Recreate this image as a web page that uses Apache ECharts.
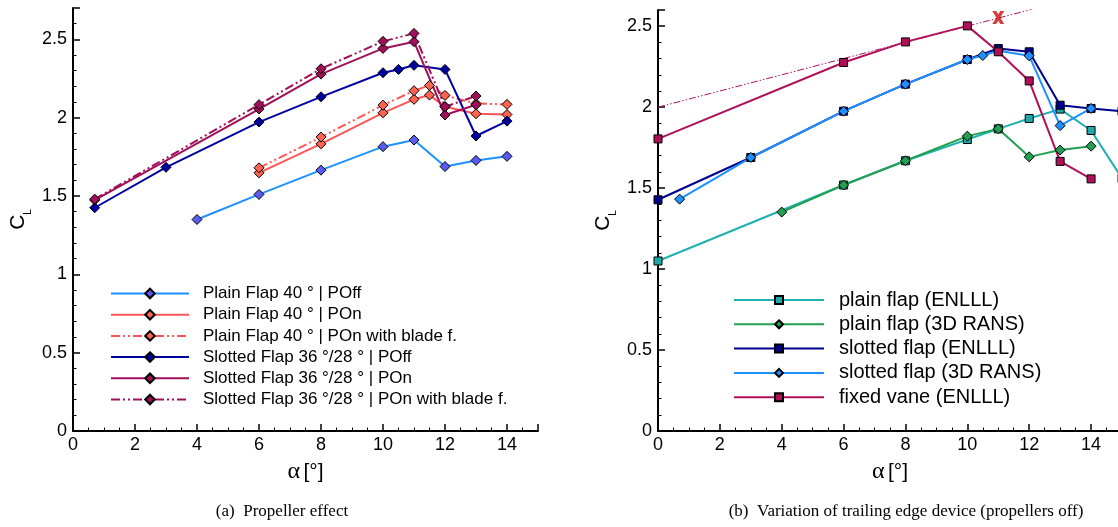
<!DOCTYPE html>
<html><head><meta charset="utf-8">
<script src="https://cdn.jsdelivr.net/npm/echarts@6/dist/echarts.min.js"></script>
<style>html,body{margin:0;padding:0;background:#fff;overflow:hidden}#c{width:1130px;height:527px}</style>
</head><body><div id="c"></div>
<script>
// ---------- (a) Propeller effect ----------
const alphaPlainOff = [4, 6, 8, 10, 11, 12, 13, 14];
const clPlainOff = [1.35, 1.51, 1.665, 1.815, 1.857, 1.688, 1.727, 1.753];
const alphaPlainOn = [6, 8, 10, 11, 11.5, 12, 13, 14];
const clPlainOn = [1.648, 1.833, 2.031, 2.117, 2.144, 2.07, 2.025, 2.02];
const clPlainOnBlade = [1.68, 1.876, 2.08, 2.172, 2.206, 2.142, 2.09, 2.085];
const alphaSlotOff = [0.7, 3, 6, 8, 10, 10.5, 11, 12, 13, 14];
const clSlotOff = [1.425, 1.683, 1.972, 2.133, 2.287, 2.308, 2.334, 2.308, 1.883, 1.978];
const alphaSlotOn = [0.7, 6, 8, 10, 11, 12, 13];
const clSlotOn = [1.474, 2.055, 2.278, 2.442, 2.485, 2.017, 2.082];
const clSlotOnBlade = [1.48, 2.083, 2.312, 2.487, 2.538, 2.07, 2.138];
const namesA = [
  'Plain Flap 40 ° | POff',
  'Plain Flap 40 ° | POn',
  'Plain Flap 40 ° | POn with blade f.',
  'Slotted Flap 36 °/28 ° | POff',
  'Slotted Flap 36 °/28 ° | POn',
  'Slotted Flap 36 °/28 ° | POn with blade f.'
];

// ---------- (b) Trailing edge device ----------
const alphaPlainEnlll = [0, 6, 8, 10, 11, 12, 13, 14, 15];
const clPlainEnlll = [1.05, 1.519, 1.669, 1.80, 1.866, 1.93, 1.988, 1.856, 1.56];
const alphaPlainRans = [4, 6, 8, 10, 11, 12, 13, 14];
const clPlainRans = [1.352, 1.519, 1.669, 1.821, 1.866, 1.693, 1.735, 1.759];
const alphaSlotEnlll = [0, 3, 6, 8, 10, 11, 12, 13, 14, 15];
const clSlotEnlll = [1.428, 1.689, 1.975, 2.142, 2.294, 2.362, 2.342, 2.012, 1.992, 1.975];
const alphaSlotRans = [0.7, 3, 6, 8, 10, 10.5, 11, 12, 13, 14];
const clSlotRans = [1.432, 1.689, 1.975, 2.142, 2.294, 2.319, 2.348, 2.317, 1.886, 1.992];
const alphaVane = [0, 6, 8, 10, 11, 12, 13, 14];
const clVane = [1.804, 2.276, 2.403, 2.502, 2.342, 2.162, 1.665, 1.557];
const alphaLinear = [0, 12.1];
const clLinear = [2.0, 2.605];
const alphaStall = [11];
const clStall = [2.553];
const namesB = [
  'plain flap (ENLLL)',
  'plain flap (3D RANS)',
  'slotted flap (ENLLL)',
  'slotted flap (3D RANS)',
  'fixed vane (ENLLL)'
];

const captionA = '(a)  Propeller effect';
const captionB = '(b)  Variation of trailing edge device (propellers off)';

const zip = (xs, ys) => xs.map((x, i) => [x, ys[i]]);
const SANS = 'Liberation Sans';
const DASH = [9, 3, 2, 3, 2, 3];

function mkSeries(name, gi, xs, ys, lineColor, markColor, symbol, size, dashed) {
  return {
    type: 'line', name, xAxisIndex: gi, yAxisIndex: gi,
    data: zip(xs, ys), symbol, symbolSize: size, showAllSymbol: true,
    lineStyle: { color: lineColor, width: 2, type: dashed ? DASH : 'solid' },
    itemStyle: { color: markColor, borderColor: '#000', borderWidth: 1 },
    emphasis: { disabled: true }, animation: false, clip: true
  };
}

function xAx(gi) {
  return {
    type: 'value', gridIndex: gi, min: 0, max: 15, interval: 2,
    axisLine: { show: true, onZero: false, lineStyle: { color: '#000', width: 2 } },
    axisTick: { show: true, inside: true, length: 7, lineStyle: { color: '#000', width: 1.5 } },
    minorTick: { show: true, splitNumber: 4, length: 3.5, lineStyle: { color: '#000', width: 1 } },
    axisLabel: { color: '#000', fontSize: 18, fontFamily: SANS, margin: 5,
      formatter: v => (v > 14.5 ? '' : String(v)) },
    splitLine: { show: false }, minorSplitLine: { show: false },
    name: '{a|α} {b|[°]}', nameLocation: 'middle', nameGap: 29,
    nameTextStyle: { rich: {
      a: { fontSize: 24, fontFamily: 'Liberation Serif', color: '#000' },
      b: { fontSize: 21, fontFamily: SANS, color: '#000' } } }
  };
}
function yAx(gi, max) {
  return {
    type: 'value', gridIndex: gi, min: 0, max: max, interval: 0.5,
    axisLine: { show: true, onZero: false, lineStyle: { color: '#000', width: 2 } },
    axisTick: { show: true, inside: true, length: 7, lineStyle: { color: '#000', width: 1.5 } },
    minorTick: { show: true, splitNumber: 5, length: 3.5, lineStyle: { color: '#000', width: 1 } },
    axisLabel: { color: '#000', fontSize: 18, fontFamily: SANS, margin: 6,
      formatter: v => (v > 2.55 ? '' : String(v)) },
    splitLine: { show: false }, minorSplitLine: { show: false },
    name: '{c|C}{s|L}', nameLocation: 'middle', nameRotate: 90, nameGap: 40,
    nameTextStyle: { rich: {
      c: { fontSize: 21, fontFamily: SANS, color: '#000', lineHeight: 30 },
      s: { fontSize: 10, fontFamily: SANS, color: '#000', lineHeight: 12, verticalAlign: 'bottom' } } }
  };
}

const series = [
  mkSeries(namesA[0], 0, alphaPlainOff, clPlainOff, '#1E90FF', '#5A5AF5', 'diamond', 10, false),
  mkSeries(namesA[1], 0, alphaPlainOn, clPlainOn, '#FF5555', '#FF6450', 'diamond', 10, false),
  mkSeries(namesA[2], 0, alphaPlainOn, clPlainOnBlade, '#FF5555', '#FF6450', 'diamond', 10, true),
  mkSeries(namesA[3], 0, alphaSlotOff, clSlotOff, '#0000A0', '#0000A0', 'diamond', 10, false),
  mkSeries(namesA[4], 0, alphaSlotOn, clSlotOn, '#A0105A', '#A0105A', 'diamond', 10, false),
  mkSeries(namesA[5], 0, alphaSlotOn, clSlotOnBlade, '#A0105A', '#A0105A', 'diamond', 10, true),

  mkSeries(namesB[0], 1, alphaPlainEnlll, clPlainEnlll, '#20B0B0', '#20A8A8', 'rect', 8, false),
  mkSeries(namesB[1], 1, alphaPlainRans, clPlainRans, '#20A050', '#20A050', 'diamond', 10, false),
  mkSeries(namesB[2], 1, alphaSlotEnlll, clSlotEnlll, '#000090', '#000090', 'rect', 8, false),
  mkSeries(namesB[3], 1, alphaSlotRans, clSlotRans, '#1E90FF', '#1E90FF', 'diamond', 10, false),
  mkSeries(namesB[4], 1, alphaVane, clVane, '#B0105A', '#B0105A', 'rect', 8, false),
  {
    type: 'line', name: 'linear', xAxisIndex: 1, yAxisIndex: 1, data: zip(alphaLinear, clLinear),
    symbol: 'none', lineStyle: { color: '#B0105A', width: 1, type: [7, 2, 1.5, 2, 1.5, 2] },
    emphasis: { disabled: true }, animation: false, z: 1
  },
  {
    type: 'scatter', name: 'stall', xAxisIndex: 1, yAxisIndex: 1, data: zip(alphaStall, clStall),
    symbol: 'path://M0,0 L3.3,0 L5,2.5 L6.7,0 L10,0 L6.7,5 L10,10 L6.7,10 L5,7.5 L3.3,10 L0,10 L3.3,5 Z',
    symbolSize: [12, 13], itemStyle: { color: '#CC1010' },
    emphasis: { disabled: true }, animation: false, z: 5
  }
];

const chart = echarts.init(document.getElementById('c'), null, { renderer: 'canvas' });
chart.setOption({
  backgroundColor: '#fff',
  animation: false,
  grid: [
    { left: 73, top: 8, width: 465, height: 423, containLabel: false },
    { left: 658, top: 10, width: 464, height: 421, containLabel: false }
  ],
  xAxis: [xAx(0), xAx(1)],
  yAxis: [yAx(0, 2.7), yAx(1, 2.6)],
  legend: [
    { data: namesA, orient: 'vertical', left: 105, top: 280, itemWidth: 78, itemHeight: 12, itemGap: 4.2,
      selectedMode: false, textStyle: { fontSize: 17, fontFamily: SANS, color: '#000', padding: [0, 0, 0, 9] } },
    { data: namesB, orient: 'vertical', left: 728, top: 285, itemWidth: 90, itemHeight: 10, itemGap: 4.3,
      selectedMode: false, textStyle: { fontSize: 20, fontFamily: SANS, color: '#000', padding: [0, 0, 0, 10] } }
  ],
  graphic: [
    { type: 'text', x: 282, y: 512, style: { text: captionA, font: '17px "Liberation Serif"', fill: '#000',
      align: 'center', verticalAlign: 'middle', textAlign: 'center', textVerticalAlign: 'middle' } },
    { type: 'text', x: 906, y: 512, style: { text: captionB, font: '17px "Liberation Serif"', fill: '#000',
      align: 'center', verticalAlign: 'middle', textAlign: 'center', textVerticalAlign: 'middle' } }
  ],
  series
});
</script>
</body></html>
